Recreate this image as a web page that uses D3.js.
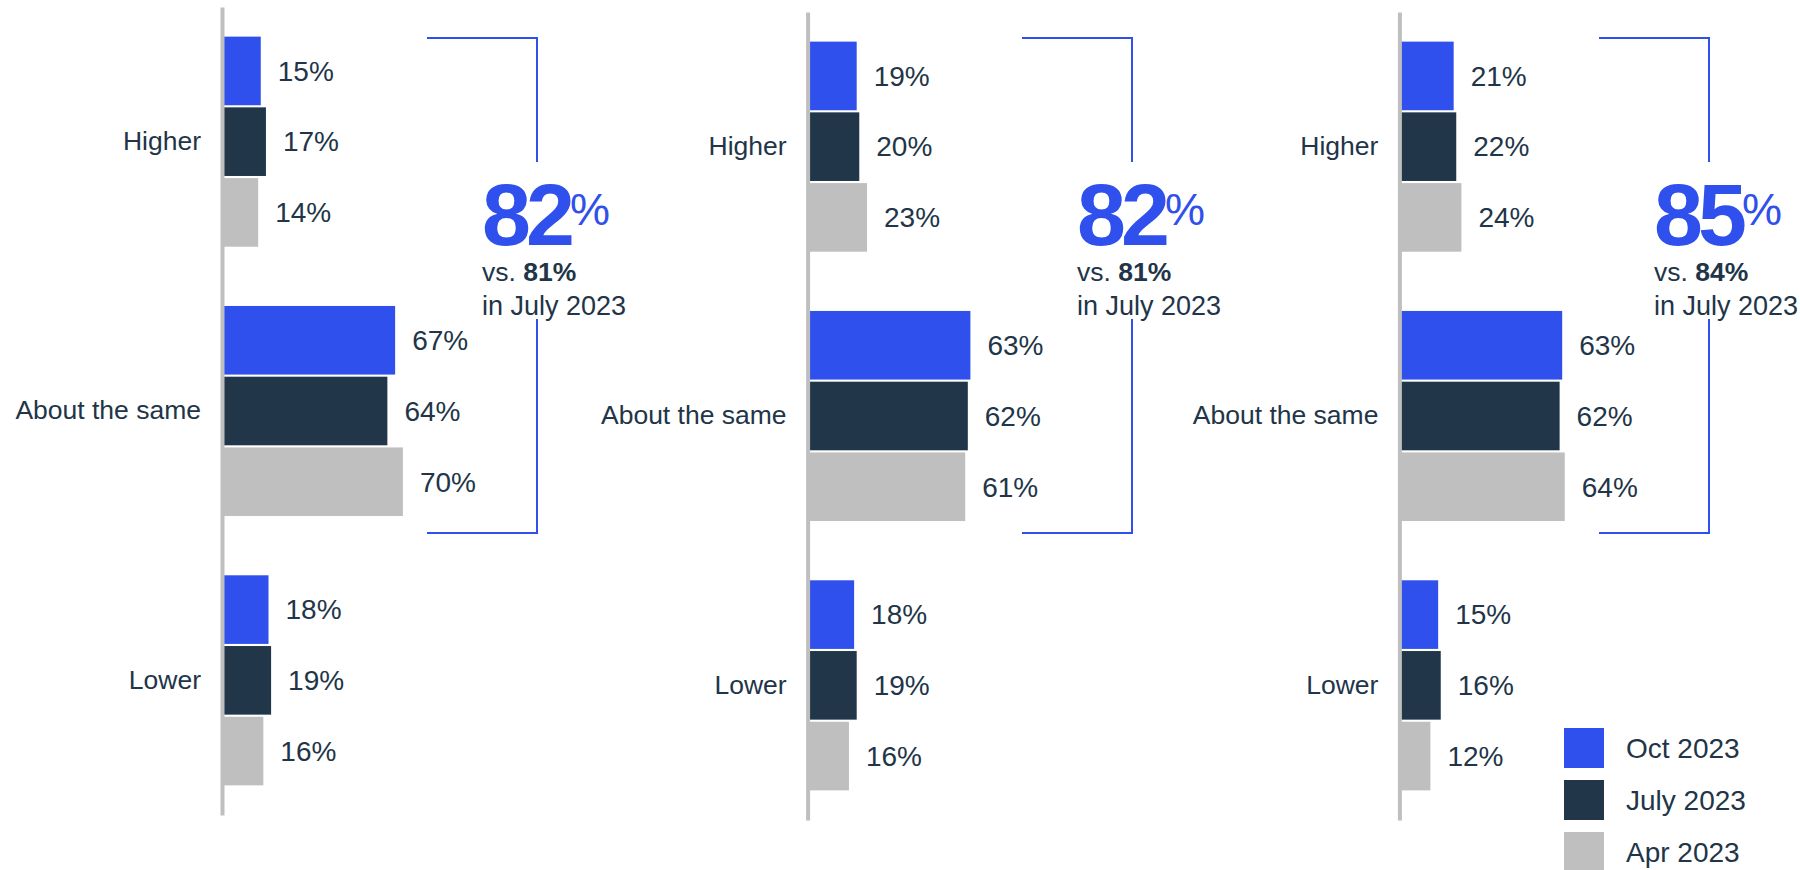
<!DOCTYPE html>
<html>
<head>
<meta charset="utf-8">
<script src="https://cdn.jsdelivr.net/npm/d3@7"></script>
<style>
  html, body { margin: 0; padding: 0; background: #ffffff; }
  svg { display: block; font-family: "Liberation Sans", Arial, Helvetica, sans-serif; }
</style>
</head>
<body>
<svg id="chart" width="1800" height="870"></svg>
<script>
// Answer categories and survey waves
const categories = ["Higher", "About the same", "Lower"];
const waves = ["Oct 2023", "July 2023", "Apr 2023"];

// Share of respondents (%) per panel, one array per wave: [Higher, About the same, Lower]
const oct2023 = [[15, 67, 18], [19, 63, 18], [21, 63, 15]];
const july2023 = [[17, 64, 19], [20, 62, 19], [22, 62, 16]];
const apr2023 = [[14, 70, 16], [23, 61, 16], [24, 64, 12]];

// Headline figure (Higher + About the same) and its July 2023 comparison
const headline = [82, 82, 85];
const headlineJuly = [81, 81, 84];

const colors = { "Oct 2023": "#2f50ec", "July 2023": "#22364a", "Apr 2023": "#bfbfbf" };
const textColor = "#223548";

// Panel layout
const panelLeft = [222, 807.6, 1399.4];
const panelSpan = [[7, 815], [12, 820], [12, 820]];
const barSpan = 258.4; // pixels for 100 %

const svg = d3.select("#chart");

panelLeft.forEach((x0, p) => {
  const g = svg.append("g");
  const x = d3.scaleLinear().domain([0, 100]).range([x0, x0 + barSpan]);
  const y = d3.scaleBand().domain(categories).range(panelSpan[p])
    .paddingInner(0.22).paddingOuter(0.11);
  const yWave = d3.scaleBand().domain(waves).range([0, y.bandwidth()]).paddingInner(0.03);

  const rows = [];
  categories.forEach((c, i) => {
    rows.push({ cat: c, wave: "Oct 2023", value: oct2023[p][i] });
    rows.push({ cat: c, wave: "July 2023", value: july2023[p][i] });
    rows.push({ cat: c, wave: "Apr 2023", value: apr2023[p][i] });
  });

  g.selectAll("rect.bar").data(rows).join("rect")
    .attr("class", "bar")
    .attr("x", x(0))
    .attr("y", d => y(d.cat) + yWave(d.wave))
    .attr("width", d => x(d.value) - x(0))
    .attr("height", yWave.bandwidth())
    .attr("fill", d => colors[d.wave]);

  g.selectAll("text.val").data(rows).join("text")
    .attr("class", "val")
    .attr("x", d => x(d.value) + 17)
    .attr("y", d => y(d.cat) + yWave(d.wave) + yWave.bandwidth() / 2)
    .attr("dy", "0.35em")
    .attr("font-size", 28)
    .attr("fill", textColor)
    .text(d => d.value + "%");

  // Category axis: a plain grey rule with the answer labels to its left
  const axis = g.append("g")
    .attr("transform", `translate(${x0},0)`)
    .call(d3.axisLeft(y).tickSize(0).tickSizeOuter(0).tickPadding(21));
  axis.select(".domain").attr("stroke", "#bfbfbf").attr("stroke-width", 4);
  axis.selectAll(".tick text")
    .attr("font-size", 26.5)
    .attr("font-family", "\"Liberation Sans\", Arial, sans-serif")
    .attr("fill", textColor);

  // Bracket around Higher + About the same with the headline share
  const right = x0 + [315, 324.4, 309.6][p];
  const left = right - 110;
  const top = 38, bottom = 533;
  const tx = right - 55;
  const ann = g.append("g");
  ann.append("path")
    .attr("d", `M${left},${top}H${right}V162`)
    .attr("fill", "none").attr("stroke", colors["Oct 2023"]).attr("stroke-width", 2);
  ann.append("path")
    .attr("d", `M${right},319V${bottom}H${left}`)
    .attr("fill", "none").attr("stroke", colors["Oct 2023"]).attr("stroke-width", 2);

  const big = ann.append("text").attr("x", tx).attr("y", 244.5).attr("fill", colors["Oct 2023"]);
  big.append("tspan").attr("font-size", 88).attr("font-weight", "bold")
    .attr("letter-spacing", -5).text(headline[p]);
  big.append("tspan").attr("font-size", 45).attr("dy", -19.5).text("%");

  const vs = ann.append("text").attr("x", tx).attr("y", 281).attr("font-size", 26.5).attr("fill", textColor);
  vs.append("tspan").text("vs. ");
  vs.append("tspan").attr("font-weight", "bold").text(headlineJuly[p] + "%");

  ann.append("text").attr("x", tx).attr("y", 314.5).attr("font-size", 27)
    .attr("fill", textColor).text("in July 2023");
});

// Legend
const legend = svg.append("g").attr("transform", "translate(1564,728)");
const item = legend.selectAll("g").data(waves).join("g")
  .attr("transform", (d, i) => `translate(0,${i * 52})`);
item.append("rect").attr("width", 40).attr("height", 40).attr("fill", d => colors[d]);
item.append("text").attr("x", 62).attr("y", 20).attr("dy", "0.35em")
  .attr("font-size", 28).attr("fill", textColor).text(d => d);
</script>
</body>
</html>
